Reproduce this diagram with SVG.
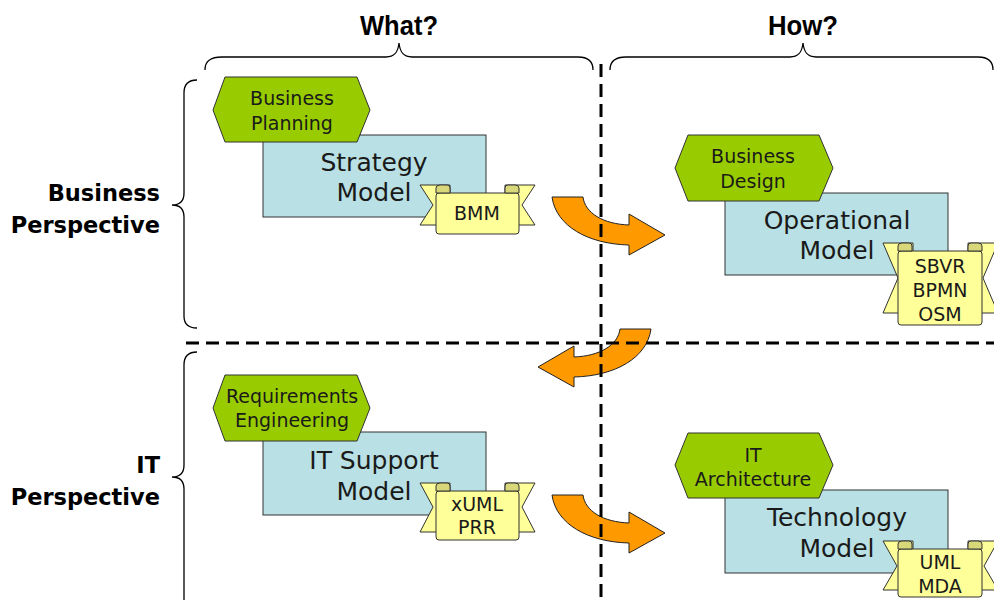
<svg xmlns="http://www.w3.org/2000/svg" width="994" height="600" viewBox="0 0 994 600">
  <style>
    .hex { fill: #99cc00; stroke: #333; stroke-width: 1; }
    .model { fill: #b9e0e4; stroke: #333; stroke-width: 1; }
    .ribbon { fill: #ffff99; stroke: #333; stroke-width: 1; stroke-linejoin: round; }
    .fold { fill: #d8d87a; stroke: #333; stroke-width: 1; }
    .flow { fill: #ff9900; stroke: #222; stroke-width: 1; }
    .brace { fill: none; stroke: #000; stroke-width: 1.3; }
    .divider { fill: none; stroke: #000; stroke-width: 3; stroke-dasharray: 13 7; }
    .head { font-family: "Liberation Sans", Arial, sans-serif; font-weight: bold; font-size: 27px; fill: #000; text-anchor: middle; }
    .side { font-family: "DejaVu Sans", sans-serif; font-weight: bold; font-size: 22.5px; fill: #000; text-anchor: end; }
    .hlabel { font-family: "DejaVu Sans", sans-serif; font-size: 19px; fill: #1a1a1a; text-anchor: middle; }
    .mlabel { font-family: "DejaVu Sans", sans-serif; font-size: 25px; fill: #1a1a1a; text-anchor: middle; }
    .rlabel { font-family: "DejaVu Sans", sans-serif; font-size: 19px; fill: #1a1a1a; text-anchor: middle; }
  </style>
  <defs>
    <!-- curved block arrow, tail at top-left, head pointing right -->
    <path id="bend" d="M552,197 L583,197 C585,213 603,224 629,225 L629,214 L665,235 L629,255 L629,245 C588,244 556,226 552,197 Z"/>
  </defs>

  <rect width="994" height="600" fill="#fff"/>

  <!-- column headings and braces -->
  <g id="headings">
    <text class="head" x="399" y="35" textLength="78" lengthAdjust="spacingAndGlyphs">What?</text>
    <text class="head" x="803" y="35" textLength="70" lengthAdjust="spacingAndGlyphs">How?</text>
    <path class="brace" d="M205,70 C205,61 210,57 222,57 L386,57 C394,57 398,53 399,43 C400,53 404,57 412,57 L578,57 C588,57 593,61 593,70"/>
    <path class="brace" d="M610,70 C610,61 615,57 626,57 L790,57 C798,57 802,53 803,43 C804,53 808,57 816,57 L978,57 C988,57 993,61 993,70"/>
  </g>

  <!-- row labels and braces -->
  <g id="rows">
    <text class="side" x="160" y="201">Business</text>
    <text class="side" x="160" y="233">Perspective</text>
    <text class="side" x="160" y="473">IT</text>
    <text class="side" x="160" y="505">Perspective</text>
    <path class="brace" d="M197,80 C189,80 184,84 184,93 L184,193 C184,201 180,205 172,205 C180,205 184,209 184,217 L184,316 C184,324 189,328 197,328"/>
    <path class="brace" d="M197,352 C189,352 184,356 184,365 L184,465 C184,473 180,477 172,477 C180,477 184,481 184,489 L184,600"/>
  </g>

  <!-- connectors -->
  <g id="connectors">
    <use href="#bend" class="flow"/>
    <use href="#bend" class="flow" transform="translate(1203,132) scale(-1,1)"/>
    <use href="#bend" class="flow" transform="translate(0,298)"/>
  </g>

  <!-- quadrant dividers -->
  <g id="dividers">
    <line class="divider" x1="601" y1="64" x2="601" y2="600"/>
    <line class="divider" x1="186" y1="343" x2="994" y2="343"/>
  </g>

  <!-- Strategy Model -->
  <g id="strategy-model">
    <rect class="model" x="263" y="135" width="223" height="82"/>
    <text class="mlabel" x="374" y="171">Strategy</text>
    <text class="mlabel" x="374" y="201">Model</text>
    <polygon class="hex" points="213,110 225,77 357,77 370,110 357,142 225,142"/>
    <text class="hlabel" x="292" y="105">Business</text>
    <text class="hlabel" x="292" y="130">Planning</text>
    <g id="bmm">
      <polygon class="ribbon" points="420,185 450,185 450,225 420,225 433,205"/>
      <polygon class="ribbon" points="535,185 505,185 505,225 535,225 522,205"/>
      <rect class="ribbon" x="436" y="193" width="83" height="41" rx="3"/>
      <path class="fold" d="M436,193 L436,188 Q436,185 440,185 L447,185 Q450,185 450,188 L450,193 Z"/>
      <path class="fold" d="M505,193 L505,188 Q505,185 508,185 L515,185 Q519,185 519,188 L519,193 Z"/>
      <text class="rlabel" x="477" y="220">BMM</text>
    </g>
  </g>

  <!-- Operational Model -->
  <g id="operational-model">
    <rect class="model" x="725" y="193" width="223" height="82"/>
    <text class="mlabel" x="837" y="229">Operational</text>
    <text class="mlabel" x="837" y="259">Model</text>
    <polygon class="hex" points="675,168 688,135 819,135 833,168 819,201 688,201"/>
    <text class="hlabel" x="753" y="163">Business</text>
    <text class="hlabel" x="753" y="188">Design</text>
    <g id="sbvr">
      <polygon class="ribbon" points="883,243 913,243 913,313 883,313 898,278"/>
      <polygon class="ribbon" points="998,243 968,243 968,313 998,313 983,278"/>
      <rect class="ribbon" x="898" y="251" width="84" height="74" rx="3"/>
      <path class="fold" d="M898,251 L898,246 Q898,243 902,243 L909,243 Q912,243 912,246 L912,251 Z"/>
      <path class="fold" d="M968,251 L968,246 Q968,243 971,243 L978,243 Q982,243 982,246 L982,251 Z"/>
      <text class="rlabel" x="940" y="273">SBVR</text>
      <text class="rlabel" x="940" y="297">BPMN</text>
      <text class="rlabel" x="940" y="321">OSM</text>
    </g>
  </g>

  <!-- IT Support Model -->
  <g id="it-support-model">
    <rect class="model" x="263" y="432" width="223" height="83"/>
    <text class="mlabel" x="374" y="469">IT Support</text>
    <text class="mlabel" x="374" y="500">Model</text>
    <polygon class="hex" points="213,408 225,375 357,375 370,408 357,441 225,441"/>
    <text class="hlabel" x="292" y="403">Requirements</text>
    <text class="hlabel" x="292" y="427">Engineering</text>
    <g id="xuml">
      <polygon class="ribbon" points="420,483 450,483 450,532 420,532 433,507"/>
      <polygon class="ribbon" points="535,483 505,483 505,532 535,532 522,507"/>
      <rect class="ribbon" x="436" y="491" width="83" height="49" rx="3"/>
      <path class="fold" d="M436,491 L436,486 Q436,483 440,483 L447,483 Q450,483 450,486 L450,491 Z"/>
      <path class="fold" d="M505,491 L505,486 Q505,483 508,483 L515,483 Q519,483 519,486 L519,491 Z"/>
      <text class="rlabel" x="477" y="511">xUML</text>
      <text class="rlabel" x="477" y="534">PRR</text>
    </g>
  </g>

  <!-- Technology Model -->
  <g id="technology-model">
    <rect class="model" x="725" y="490" width="223" height="83"/>
    <text class="mlabel" x="837" y="526">Technology</text>
    <text class="mlabel" x="837" y="557">Model</text>
    <polygon class="hex" points="675,465 688,433 819,433 833,465 819,498 688,498"/>
    <text class="hlabel" x="753" y="462">IT</text>
    <text class="hlabel" x="753" y="486">Architecture</text>
    <g id="uml">
      <polygon class="ribbon" points="883,541 913,541 913,590 883,590 897,566"/>
      <polygon class="ribbon" points="998,541 968,541 968,590 998,590 984,566"/>
      <rect class="ribbon" x="898" y="549" width="84" height="48" rx="3"/>
      <path class="fold" d="M898,549 L898,544 Q898,541 902,541 L909,541 Q912,541 912,544 L912,549 Z"/>
      <path class="fold" d="M968,549 L968,544 Q968,541 971,541 L978,541 Q982,541 982,544 L982,549 Z"/>
      <text class="rlabel" x="940" y="569">UML</text>
      <text class="rlabel" x="940" y="593">MDA</text>
    </g>
  </g>
</svg>
